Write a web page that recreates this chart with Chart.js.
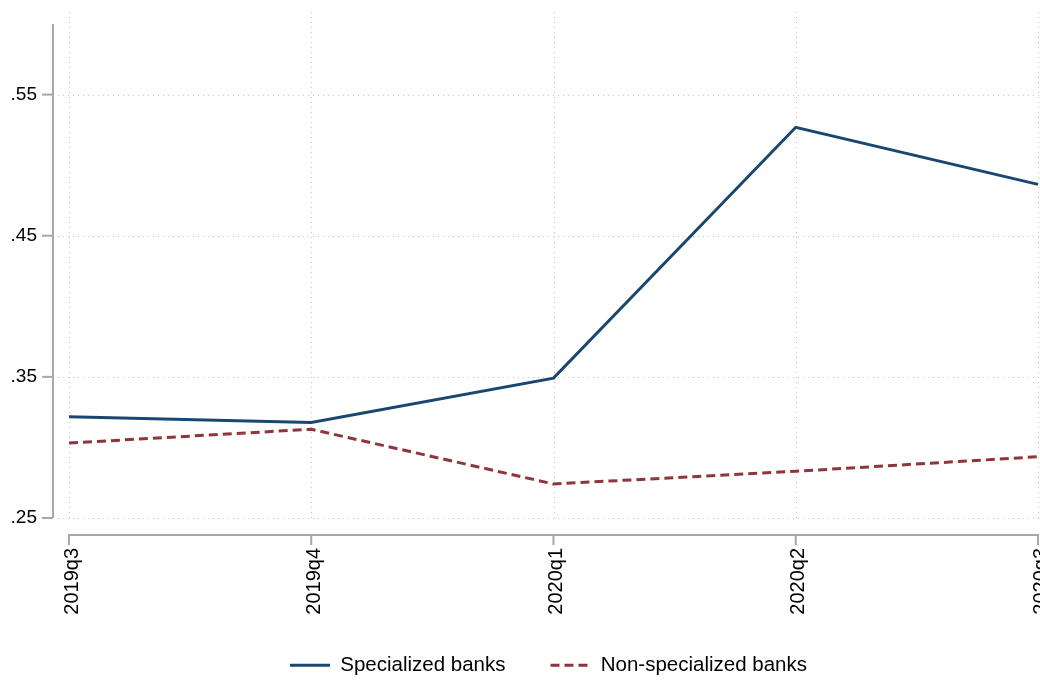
<!DOCTYPE html>
<html>
<head>
<meta charset="utf-8">
<script src="https://cdn.jsdelivr.net/npm/chart.js@4/dist/chart.umd.min.js"></script>
<style>
  html, body { margin: 0; padding: 0; background: #ffffff; }
  #wrap { width: 1040px; height: 680px; position: relative; }
</style>
</head>
<body>
<div id="wrap"><canvas id="c" width="1040" height="680"></canvas></div>
<script>
// ---- data ----
const categories = ['2019q3', '2019q4', '2020q1', '2020q2', '2020q3'];
const specialized = [0.3217, 0.3176, 0.3491, 0.5268, 0.4864];
const nonSpecialized = [0.3031, 0.3129, 0.2741, 0.2831, 0.2934];
const yTickValues = [0.25, 0.35, 0.45, 0.55];
const yTickLabels = ['.25', '.35', '.45', '.55'];
const seriesNames = ['Specialized banks', 'Non-specialized banks'];

const BLUE = '#1a476f';
const RED = '#90353b';
const AXIS = '#a8a8a8';
const GRID = '#c4c4c4';
const FONT = '"Liberation Sans", Arial, Helvetica, sans-serif';

const stataAxes = {
  id: 'stataAxes',
  afterLayout(chart) {
    const lg = chart.legend;
    if (lg) { lg.left = 59; lg.top = 610; }
  },
  beforeDatasetsDraw(chart) {
    const {ctx, scales: {x, y}, chartArea} = chart;
    ctx.save();
    // dotted grid lines
    ctx.strokeStyle = GRID;
    ctx.lineWidth = 1;
    ctx.setLineDash([1, 4]);
    yTickValues.forEach(v => {
      const py = Math.round(y.getPixelForValue(v)) + 0.5;
      ctx.beginPath(); ctx.moveTo(58, py); ctx.lineTo(1040, py); ctx.stroke();
    });
    categories.forEach((c, i) => {
      const px = Math.round(x.getPixelForValue(i)) + 0.5;
      ctx.beginPath(); ctx.moveTo(px, 12); ctx.lineTo(px, chartArea.bottom); ctx.stroke();
    });
    ctx.setLineDash([]);
    // y axis line (offset)
    ctx.strokeStyle = AXIS;
    ctx.lineWidth = 2;
    const axX = 53;
    ctx.beginPath(); ctx.moveTo(axX, y.getPixelForValue(0.6)); ctx.lineTo(axX, y.getPixelForValue(0.25)); ctx.stroke();
    yTickValues.forEach(v => {
      const py = y.getPixelForValue(v);
      ctx.beginPath(); ctx.moveTo(42, py); ctx.lineTo(axX, py); ctx.stroke();
    });
    // x axis line (offset)
    const axY = 535;
    ctx.beginPath(); ctx.moveTo(x.getPixelForValue(0) - 1, axY); ctx.lineTo(x.getPixelForValue(categories.length - 1) + 1, axY); ctx.stroke();
    categories.forEach((c, i) => {
      const px = x.getPixelForValue(i);
      ctx.beginPath(); ctx.moveTo(px, axY); ctx.lineTo(px, axY + 10); ctx.stroke();
    });
    ctx.restore();
  }
};

new Chart(document.getElementById('c'), {
  type: 'line',
  data: {
    labels: categories,
    datasets: [
      {
        label: seriesNames[0],
        data: specialized,
        borderColor: BLUE,
        backgroundColor: BLUE,
        borderWidth: 3,
        pointRadius: 0,
        pointStyle: 'line',
        tension: 0,
        fill: false
      },
      {
        label: seriesNames[1],
        data: nonSpecialized,
        borderColor: RED,
        backgroundColor: RED,
        borderWidth: 3,
        borderDash: [9, 5],
        pointRadius: 0,
        pointStyle: 'line',
        tension: 0,
        fill: false
      }
    ]
  },
  options: {
    responsive: false,
    animation: false,
    devicePixelRatio: 1,
    layout: { padding: { top: 24, left: 0, right: 2, bottom: 0 } },
    plugins: {
      tooltip: { enabled: false },
      legend: {
        position: 'bottom',
        maxHeight: 60,
        labels: {
          usePointStyle: true,
          pointStyleWidth: 40,
          padding: 45,
          color: '#000000',
          font: { family: FONT, size: 20.5 },
          generateLabels(chart) {
            const items = Chart.defaults.plugins.legend.labels.generateLabels(chart);
            items.forEach(it => {
              const ds = chart.data.datasets[it.datasetIndex];
              it.lineDash = ds.borderDash || [];
              it.strokeStyle = ds.borderColor;
              it.fillStyle = ds.borderColor;
              it.lineWidth = 3;
              it.pointStyle = 'line';
            });
            return items;
          }
        }
      }
    },
    scales: {
      x: {
        type: 'category',
        offset: false,
        grid: { display: false, drawTicks: false },
        border: { display: false },
        ticks: {
          minRotation: 90,
          maxRotation: 90,
          autoSkip: false,
          padding: 30,
          labelOffset: 3,
          color: '#000000',
          font: { family: FONT, size: 20 }
        },
        afterFit(s) {
          s.paddingLeft = 0; s.paddingRight = 0;
          s.height = 680 - 518 - 60;
        }
      },
      y: {
        min: 0.25,
        max: 0.6,
        grid: { display: false, drawTicks: false },
        border: { display: false },
        afterBuildTicks(s) { s.ticks = yTickValues.map(v => ({ value: v })); },
        ticks: {
          padding: 32,
          color: '#000000',
          font: { family: FONT, size: 19 },
          callback(value) {
            const i = yTickValues.findIndex(v => Math.abs(v - value) < 1e-9);
            return i >= 0 ? yTickLabels[i] : '';
          }
        },
        afterFit(s) { s.width = 69; s.paddingTop = 0; s.paddingBottom = 0; }
      }
    }
  },
  plugins: [stataAxes]
});
</script>
</body>
</html>
